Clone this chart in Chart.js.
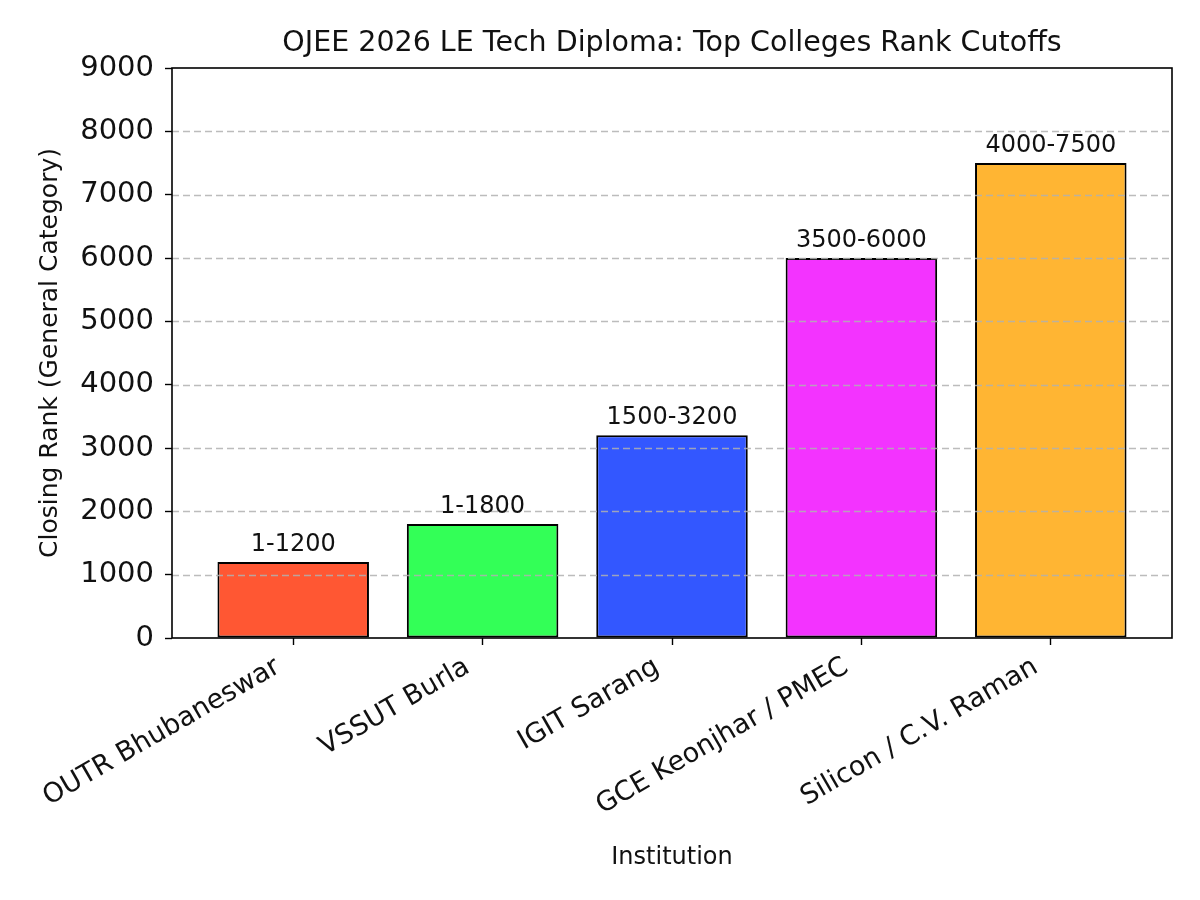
<!DOCTYPE html>
<html>
<head>
<meta charset="utf-8">
<script src="https://cdn.jsdelivr.net/npm/chart.js@4/dist/chart.umd.min.js"></script>
<style>
  html, body { margin: 0; padding: 0; background: #fff; }
  #wrap { width: 1200px; height: 900px; }
</style>
</head>
<body>
<div id="wrap"><canvas id="c" width="1200" height="900"></canvas></div>
<script>
const categories = ["OUTR Bhubaneswar", "VSSUT Burla", "IGIT Sarang", "GCE Keonjhar / PMEC", "Silicon / C.V. Raman"];
const closingRanks = [1200, 1800, 3200, 6000, 7500];
const rangeLabels = ["1-1200", "1-1800", "1500-3200", "3500-6000", "4000-7500"];
const barColors = ["#FF5733", "#33FF57", "#3357FF", "#F333FF", "#FFB533"];
const yTicks = [0, 1000, 2000, 3000, 4000, 5000, 6000, 7000, 8000, 9000];
const titleText = "OJEE 2026 LE Tech Diploma: Top Colleges Rank Cutoffs";
const xTitle = "Institution";
const yTitle = "Closing Rank (General Category)";

const FONT = "'DejaVu Sans', sans-serif";

const overlay = {
  id: 'overlay',
  afterDatasetsDraw(chart) {
    const {ctx, chartArea: a, scales} = chart;
    const y = scales.y, x = scales.x;
    // dashed grid on top of bars
    ctx.save();
    ctx.strokeStyle = 'rgba(176,176,176,0.85)';
    ctx.lineWidth = 1.4;
    ctx.setLineDash([7, 4]);
    yTicks.forEach(v => {
      if (v === 0 || v === 9000) return;
      const py = Math.round(y.getPixelForValue(v)) + 0.5;
      ctx.beginPath(); ctx.moveTo(a.left, py); ctx.lineTo(a.right, py); ctx.stroke();
    });
    ctx.restore();
    // value labels
    ctx.save();
    ctx.fillStyle = '#111';
    ctx.font = "24px " + FONT;
    ctx.textAlign = 'center';
    ctx.textBaseline = 'alphabetic';
    closingRanks.forEach((v, i) => {
      ctx.fillText(rangeLabels[i], x.getPixelForValue(i), y.getPixelForValue(v) - 11);
    });
    ctx.restore();
  },
  afterDraw(chart) {
    const {ctx, chartArea: a} = chart;
    ctx.save();
    ctx.strokeStyle = '#000';
    ctx.lineWidth = 1.6;
    ctx.strokeRect(a.left, a.top, a.right - a.left, a.bottom - a.top);
    ctx.fillStyle = '#111';
    ctx.font = "28.5px " + FONT;
    ctx.textAlign = 'center';
    ctx.textBaseline = 'middle';
    ctx.fillText(titleText, (a.left + a.right) / 2, 44);
    ctx.restore();
  }
};

new Chart(document.getElementById('c'), {
  type: 'bar',
  data: {
    datasets: [{
      data: closingRanks.map((v, i) => ({x: i, y: v})),
      backgroundColor: barColors,
      borderColor: '#000',
      borderWidth: 2,
      borderSkipped: false,
      categoryPercentage: 1.0,
      barPercentage: 0.8
    }]
  },
  options: {
    responsive: false,
    animation: false,
    devicePixelRatio: 1,
    layout: { padding: { top: 68, right: 28, left: 0, bottom: 0 } },
    plugins: { legend: { display: false }, tooltip: { enabled: false }, title: { display: false } },
    scales: {
      x: {
        type: 'linear',
        offset: false,
        min: -0.64,
        max: 4.64,
        afterBuildTicks: s => { s.ticks = categories.map((c, i) => ({value: i})); },
        afterFit: s => { s.height = 262; },
        border: { display: false },
        grid: { offset: false, drawOnChartArea: false, drawTicks: true, tickLength: 7, tickColor: '#000', tickWidth: 1.4 },
        ticks: {
          autoSkip: false, minRotation: 30, maxRotation: 30, padding: 6, labelOffset: -15,
          color: '#111', font: { family: FONT, size: 27 },
          callback: v => categories[v]
        },
        title: { display: true, text: xTitle, color: '#111', font: { family: FONT, size: 24 }, padding: { top: 0, bottom: 28 } }
      },
      y: {
        min: 0,
        max: 9000,
        afterBuildTicks: s => { s.ticks = yTicks.map(v => ({value: v})); },
        afterFit: s => { s.width = 172; },
        border: { display: false },
        grid: { drawOnChartArea: false, drawTicks: true, tickLength: 7, tickColor: '#000', tickWidth: 1.4 },
        ticks: { padding: 11, color: '#111', font: { family: FONT, size: 29 }, callback: v => String(v) },
        title: { display: true, text: yTitle, color: '#111', font: { family: FONT, size: 25 }, padding: { top: 35, bottom: 0 } }
      }
    }
  },
  plugins: [overlay]
});
</script>
</body>
</html>
